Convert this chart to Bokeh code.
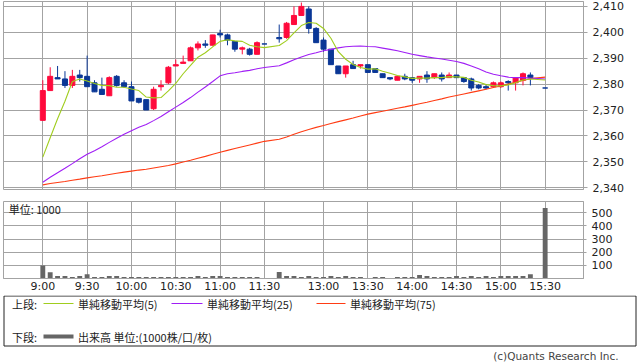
from bokeh.plotting import figure
from bokeh.models import Range1d, FixedTicker, NumeralTickFormatter, ColumnDataSource, Grid, Label
from bokeh.layouts import column
from bokeh.embed import file_html
from bokeh.resources import INLINE
from bokeh.core.properties import value

# ---------------- data (5-minute bars) ----------------
times = ["9:00", "9:05", "9:10", "9:15", "9:20", "9:25", "9:30", "9:35", "9:40", "9:45", "9:50", "9:55",
         "10:00", "10:05", "10:10", "10:15", "10:20", "10:25", "10:30", "10:35", "10:40", "10:45", "10:50", "10:55",
         "11:00", "11:05", "11:10", "11:15", "11:20", "11:25", "11:30",
         "12:30", "12:35", "12:40", "12:45", "12:50", "12:55",
         "13:00", "13:05", "13:10", "13:15", "13:20", "13:25", "13:30", "13:35", "13:40", "13:45", "13:50", "13:55",
         "14:00", "14:05", "14:10", "14:15", "14:20", "14:25", "14:30", "14:35", "14:40", "14:45", "14:50", "14:55",
         "15:00", "15:05", "15:10", "15:15", "15:20", "15:30"]

opens = [2366, 2377.5, 2382.5, 2382, 2379.5, 2383.5, 2383, 2380.5, 2378, 2375.5,
         2383, 2380.5, 2379, 2374.5, 2374, 2370.5, 2379, 2380.5, 2387, 2388,
         2389, 2394, 2395.5, 2395, 2399.5, 2399, 2396.5, 2393.5, 2393.5, 2391.5,
         2395.5, 2398, 2398, 2403, 2406.5, 2409, 2401.5, 2397, 2393.5, 2387,
         2384, 2387.5, 2387, 2387.5, 2386, 2384, 2382.5, 2381.5, 2383, 2382.5,
         2382, 2383.5, 2382.5, 2383.5, 2382.5, 2383.5, 2382.5, 2382, 2379.5, 2379,
         2379, 2379, 2381, 2380.5, 2381.5, 2383.5, 2378.5]
highs = [2381.5, 2386.5, 2387, 2385, 2385.5, 2385.5, 2391, 2381.5, 2382.5, 2383,
         2383.5, 2381.5, 2381, 2374.5, 2374, 2379, 2381.5, 2387, 2389.5, 2391,
         2394.5, 2396.5, 2397, 2399, 2401, 2399.5, 2396.5, 2394.5, 2394, 2396.5,
         2395.5, 2403, 2404, 2410, 2411.5, 2410, 2402, 2398, 2393.5, 2387,
         2387, 2389, 2387.5, 2387.5, 2386, 2384, 2382.5, 2383, 2384, 2382.5,
         2383, 2385, 2384, 2384.5, 2384.5, 2383.5, 2382.5, 2382.5, 2380, 2380,
         2381, 2381, 2381.5, 2382.5, 2384.5, 2384.5, 2378.5]
lows = [2366, 2377.5, 2382, 2378.5, 2378.5, 2381, 2379, 2377, 2376, 2375.5,
        2379, 2378.5, 2373.5, 2372.5, 2370, 2370, 2377.5, 2380, 2387, 2388,
        2389, 2393, 2394, 2395, 2398, 2395, 2392.5, 2391.5, 2391, 2391.5,
        2395.5, 2396, 2397.5, 2403, 2406.5, 2399.5, 2396, 2392.5, 2387.5, 2384,
        2382.5, 2386, 2386, 2384.5, 2384.5, 2382.5, 2381.5, 2381.5, 2381.5, 2380.5,
        2380.5, 2380.5, 2382, 2381, 2382.5, 2382.5, 2380.5, 2377.5, 2378, 2378,
        2379, 2378.5, 2377.5, 2377.5, 2379.5, 2379.5, 2378.5]
closes = [2377.5, 2383, 2382, 2379.5, 2383, 2382.5, 2379, 2377, 2376, 2382.5,
          2379.5, 2379, 2373.5, 2373, 2370, 2378, 2379.5, 2386.5, 2387.5, 2388.5,
          2394, 2395.5, 2395, 2399, 2399, 2397, 2393.5, 2394, 2391.5, 2396,
          2395.5, 2397.5, 2403.5, 2406.5, 2410, 2401.5, 2396, 2393.5, 2387.5, 2384,
          2387, 2386, 2387.5, 2384.5, 2384.5, 2382.5, 2382, 2383, 2382, 2381.5,
          2383, 2382, 2384, 2382, 2383.5, 2382.5, 2381, 2378.5, 2378.5, 2378.5,
          2380.5, 2380.5, 2380.5, 2382.5, 2384, 2382.5, 2378.5]
volumes = [98, 48, 19, 19, 11, 19, 32, 11, 11, 19,
           19, 11, 11, 11, 11, 11, 11, 11, 11, 11,
           11, 19, 11, 19, 19, 11, 11, 11, 11, 11,
           2, 49, 19, 19, 11, 19, 11, 11, 19, 11,
           19, 11, 11, 4, 11, 11, 4, 11, 11, 11,
           26, 19, 11, 11, 11, 19, 11, 19, 11, 19,
           11, 19, 19, 19, 19, 32, 535]

sma5 = [2351.8, 2359.3, 2366.6, 2373.4, 2381.0, 2382.0, 2381.2, 2380.2, 2379.5, 2379.4,
        2378.8, 2378.8, 2378.1, 2377.5, 2375.0, 2374.7, 2374.8, 2377.4, 2380.3, 2384.0,
        2387.2, 2390.4, 2392.1, 2394.4, 2396.5, 2397.1, 2396.7, 2396.5, 2395.0, 2394.4,
        2394.1, 2394.9, 2396.8, 2399.8, 2402.6, 2403.8, 2403.5, 2401.5, 2397.7, 2392.5,
        2389.6, 2387.6, 2386.4, 2385.8, 2385.9, 2385.0, 2384.2, 2383.3, 2382.8, 2382.2,
        2382.3, 2382.3, 2382.5, 2382.5, 2382.9, 2382.8, 2382.6, 2381.5, 2380.8, 2379.8,
        2379.4, 2379.3, 2379.7, 2380.5, 2381.6, 2382.0, 2381.6]
sma25 = [2342.1, 2344.0, 2345.8, 2347.5, 2349.3, 2351.2, 2352.9, 2354.3, 2355.8, 2357.5,
         2359.1, 2360.6, 2362.0, 2363.3, 2364.4, 2365.9, 2367.5, 2369.3, 2371.1, 2372.9,
         2374.8, 2376.9, 2378.9, 2381.0, 2383.2, 2384.0, 2384.4, 2384.9, 2385.3, 2385.9,
         2386.4, 2387.1, 2388.2, 2389.4, 2390.5, 2391.4, 2392.1, 2392.9, 2393.4, 2394.0,
         2394.4, 2394.6, 2394.7, 2394.5, 2394.4, 2393.9, 2393.4, 2392.9, 2392.2, 2391.5,
         2391.0, 2390.5, 2390.1, 2389.7, 2389.2, 2388.7, 2388.0, 2387.0, 2385.9, 2384.7,
         2383.8, 2383.2, 2382.7, 2382.5, 2382.5, 2382.3, 2382.0]
sma75 = [2341.1, 2341.6, 2342.0, 2342.4, 2342.9, 2343.3, 2343.8, 2344.2, 2344.6, 2345.1,
         2345.6, 2346.0, 2346.4, 2346.8, 2347.1, 2347.6, 2348.1, 2348.6, 2349.2, 2349.9,
         2350.6, 2351.4, 2352.1, 2352.9, 2353.7, 2354.4, 2355.1, 2355.8, 2356.5, 2357.2,
         2357.9, 2358.7, 2359.6, 2360.6, 2361.6, 2362.5, 2363.3, 2364.0, 2364.8, 2365.5,
         2366.2, 2366.9, 2367.7, 2368.4, 2369.0, 2369.5, 2370.1, 2370.7, 2371.2, 2371.8,
         2372.4, 2373.0, 2373.7, 2374.3, 2375.0, 2375.6, 2376.2, 2376.8, 2377.4, 2378.0,
         2378.7, 2379.3, 2380.0, 2380.7, 2381.4, 2382.1, 2382.7]

tick_labels = ["9:00", "9:30", "10:00", "10:30", "11:00", "11:30",
               "13:00", "13:30", "14:00", "14:30", "15:00", "15:30"]
price_ticks = [2340, 2350, 2360, 2370, 2380, 2390, 2400, 2410]
volume_ticks = [100, 200, 300, 400, 500]


# time -> slot on the intraday axis (lunch break compressed to one empty slot)
def slot(t):
    h, m = map(int, t.split(":"))
    mins = h * 60 + m
    if mins <= 11 * 60 + 30:
        return (mins - 9 * 60) / 5
    return (mins - (12 * 60 + 30)) / 5 + 32


xs = [slot(t) for t in times]
tick_pos = [slot(t) for t in tick_labels]

UP = "#ff0a3c"
DOWN = "#0a3796"
GRID = "#a3a3a3"
TXT = "#222222"
C5 = "#a0cd1e"
C25 = "#a01ef5"
C75 = "#ff3c14"
NUM_FONT = "DejaVu Sans"
JP_FONT = "Noto Sans CJK JP"

colors = [UP if c > o else DOWN for o, c in zip(opens, closes)]
src = ColumnDataSource(dict(
    x=xs, o=opens, h=highs, l=lows, c=closes,
    top=[max(o, c) for o, c in zip(opens, closes)],
    bottom=[min(o, c) for o, c in zip(opens, closes)],
    color=colors,
))

xr = Range1d(-5.32, 73.19)

# ---------------- price panel ----------------
p1 = figure(width=638, height=195, x_range=xr, y_range=Range1d(2339.3, 2411.9),
            output_backend="svg", toolbar_location=None,
            x_axis_location=None, y_axis_location="right",
            min_border_left=3, min_border_right=55, min_border_top=1, min_border_bottom=6)
p1.grid.visible = False
p1.add_layout(Grid(dimension=0, ticker=FixedTicker(ticks=tick_pos), grid_line_color=GRID))
p1.add_layout(Grid(dimension=1, ticker=FixedTicker(ticks=price_ticks), grid_line_color=GRID))
p1.outline_line_color = GRID
ya = p1.yaxis[0]
ya.ticker = FixedTicker(ticks=price_ticks)
ya.formatter = NumeralTickFormatter(format="0,0")
ya.major_label_text_font = NUM_FONT
ya.major_label_text_font_size = "11px"
ya.major_label_text_color = TXT
ya.axis_line_color = GRID
ya.major_tick_line_color = GRID
ya.major_tick_out = 4
ya.major_tick_in = 0
ya.minor_tick_line_color = None
ya.major_label_standoff = 5

p1.segment(x0="x", y0="h", x1="x", y1="l", line_color="color", line_width=1, source=src)
p1.vbar(x="x", width=0.68, top="top", bottom="bottom", fill_color="color",
        line_color="color", line_width=1, source=src)
p1.line(xs, sma75, line_color=C75, line_width=1.1)
p1.line(xs, sma25, line_color=C25, line_width=1.1)
p1.line(xs, sma5, line_color=C5, line_width=1.1)

# ---------------- volume panel ----------------
p2 = figure(width=638, height=100, x_range=xr, y_range=Range1d(0, 585),
            output_backend="svg", toolbar_location=None,
            x_axis_location="below", y_axis_location="right",
            min_border_left=3, min_border_right=55, min_border_top=6, min_border_bottom=14)
p2.grid.visible = False
p2.add_layout(Grid(dimension=0, ticker=FixedTicker(ticks=tick_pos), grid_line_color=GRID))
p2.add_layout(Grid(dimension=1, ticker=FixedTicker(ticks=volume_ticks), grid_line_color=GRID))
p2.outline_line_color = GRID
p2.vbar(x=xs, top=volumes, width=0.66, fill_color="#666666", line_color=None)

xa = p2.xaxis[0]
xa.ticker = FixedTicker(ticks=tick_pos)
xa.major_label_overrides = {p: lab for p, lab in zip(tick_pos, tick_labels)}
xa.major_label_text_font = NUM_FONT
xa.major_label_text_font_size = "11px"
xa.major_label_text_color = TXT
xa.axis_line_color = GRID
xa.major_tick_line_color = GRID
xa.major_tick_out = 0
xa.major_tick_in = 0
xa.minor_tick_line_color = None
xa.major_label_standoff = 1

ya2 = p2.yaxis[0]
ya2.ticker = FixedTicker(ticks=volume_ticks)
ya2.major_label_text_font = NUM_FONT
ya2.major_label_text_font_size = "11px"
ya2.major_label_text_color = TXT
ya2.axis_line_color = GRID
ya2.major_tick_line_color = GRID
ya2.major_tick_out = 3
ya2.major_tick_in = 0
ya2.minor_tick_line_color = None
ya2.major_label_standoff = 5

p2.add_layout(Label(x=-4.6, y=527, text="単位: 1000", text_font=JP_FONT,
                    text_font_size="11px", text_color=TXT, text_baseline="middle"))

# ---------------- legend panel ----------------
p3 = figure(width=638, height=67, x_range=Range1d(0, 638), y_range=Range1d(67, 0),
            output_backend="svg", toolbar_location=None,
            x_axis_location=None, y_axis_location=None, min_border=0)
p3.frame_align = False
p3.grid.visible = False
p3.outline_line_color = None
p3.quad(left=[3.5], right=[635.5], top=[0.5], bottom=[50.5], fill_color=None,
        line_color="#222222", line_width=1)

row1 = 8
row2 = 41
p3.text(x=[11.5], y=[row1], text=["上段:"], text_font=value(JP_FONT), text_font_size="11px",
        text_baseline="middle", text_color=TXT)
p3.text(x=[11.5], y=[row2], text=["下段:"], text_font=value(JP_FONT), text_font_size="11px",
        text_baseline="middle", text_color=TXT)
p3.segment(x0=[43], y0=[row1], x1=[73], y1=[row1], line_color=C5, line_width=1)
p3.segment(x0=[171], y0=[row1], x1=[202], y1=[row1], line_color=C25, line_width=1)
p3.segment(x0=[316], y0=[row1], x1=[345], y1=[row1], line_color=C75, line_width=1)
p3.segment(x0=[43], y0=[row2], x1=[73], y1=[row2], line_color="#666666", line_width=4)
p3.text(x=[77.5, 206.5, 349.5], y=[row1] * 3,
        text=["単純移動平均(5)", "単純移動平均(25)", "単純移動平均(75)"],
        text_font=value(JP_FONT), text_font_size="11px", text_baseline="middle", text_color=TXT)
p3.text(x=[77.5], y=[row2], text=["出来高 単位:(1000株/口/枚)"],
        text_font=value(JP_FONT), text_font_size="11px", text_baseline="middle", text_color=TXT)
p3.text(x=[618], y=[60], text=["(c)Quants Research Inc."], text_font=value(NUM_FONT),
        text_font_size="10.5px", text_baseline="middle", text_align="right", text_color="#444444")

layout = column(p1, p2, p3, spacing=0)
open("out.html", "w").write(file_html(layout, INLINE))
